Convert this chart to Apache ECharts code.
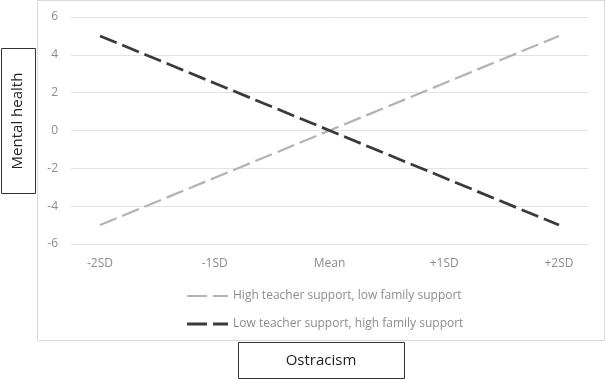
<!DOCTYPE html>
<html><head><meta charset="utf-8">
<script src="https://cdn.jsdelivr.net/npm/echarts@6/dist/echarts.min.js"></script>
<style>html,body{margin:0;padding:0;background:#fff}#c{width:606px;height:380px}</style>
</head><body><div id="c"></div>
<script>
const categories = ['-2SD', '-1SD', 'Mean', '+1SD', '+2SD'];
const highTeacherLowFamily = [-5, -2.5, 0, 2.5, 5];
const lowTeacherHighFamily = [5, 2.5, 0, -2.5, -5];
const seriesNames = ['High teacher support, low family support', 'Low teacher support, high family support'];
const yMin = -6, yMax = 6, yStep = 2;

const chart = echarts.init(document.getElementById('c'), null, {renderer: 'canvas'});
const FONT = 'Open Sans';
const lightColor = '#b3b3b3', darkColor = '#3a3a3a';
chart.setOption({
  animation: false,
  backgroundColor: '#fff',
  grid: [
    {left: 100, right: 47, top: 17, bottom: 136},
    {left: 71, right: 18, top: 17, bottom: 136}
  ],
  xAxis: [
    {type: 'category', gridIndex: 0, data: categories, boundaryGap: false,
     axisLine: {show: false}, axisTick: {show: false}, splitLine: {show: false},
     axisLabel: {color: '#8c8c8c', fontSize: 12, fontFamily: FONT, margin: 14}},
    {type: 'category', gridIndex: 1, data: categories, show: false}
  ],
  yAxis: [
    {type: 'value', gridIndex: 0, min: yMin, max: yMax, interval: yStep, show: false},
    {type: 'value', gridIndex: 1, min: yMin, max: yMax, interval: yStep,
     axisLine: {show: false}, axisTick: {show: false},
     splitLine: {lineStyle: {color: '#e3e3e3', width: 1}},
     axisLabel: {color: '#8c8c8c', fontSize: 12, fontFamily: FONT, margin: 13}}
  ],
  legend: {
    orient: 'vertical', left: 182, top: 284, itemWidth: 41, itemHeight: 3, itemGap: 14,
    textStyle: {color: '#8c8c8c', fontSize: 12, fontFamily: FONT, lineHeight: 14},
    data: [
      {name: seriesNames[0], icon: 'path://M0,0H20V2H0Z M26,0H41V2H26Z', itemStyle: {color: lightColor}},
      {name: seriesNames[1], icon: 'path://M0,0H20V3H0Z M26,0H41V3H26Z', itemStyle: {color: darkColor}}
    ]
  },
  series: [
    {name: seriesNames[0], type: 'line', xAxisIndex: 0, yAxisIndex: 0, data: highTeacherLowFamily,
     symbol: 'none', lineStyle: {color: lightColor, width: 2.25, type: [18, 6]}, itemStyle: {color: lightColor}},
    {name: seriesNames[1], type: 'line', xAxisIndex: 0, yAxisIndex: 0, data: lowTeacherHighFamily,
     symbol: 'none', lineStyle: {color: darkColor, width: 2.75, type: [18, 6]}, itemStyle: {color: darkColor}}
  ],
  graphic: [
    {type: 'rect', shape: {x: 37.5, y: 0.5, width: 567, height: 340}, style: {fill: null, stroke: '#d9d9d9', lineWidth: 1}, silent: true},
    {type: 'rect', shape: {x: 1.5, y: 48.5, width: 34, height: 145}, style: {fill: '#fff', stroke: '#333', lineWidth: 1}},
    {type: 'text', x: 18, y: 121, rotation: Math.PI / 2,
     style: {text: 'Mental health', fill: '#222', fontSize: 15, fontFamily: FONT, align: 'center', verticalAlign: 'middle'}},
    {type: 'rect', shape: {x: 238.5, y: 342.5, width: 166, height: 36}, style: {fill: '#fff', stroke: '#333', lineWidth: 1}},
    {type: 'text', x: 321, y: 361,
     style: {text: 'Ostracism', fill: '#222', fontSize: 15, fontFamily: FONT, align: 'center', verticalAlign: 'middle'}}
  ]
});
</script></body></html>
